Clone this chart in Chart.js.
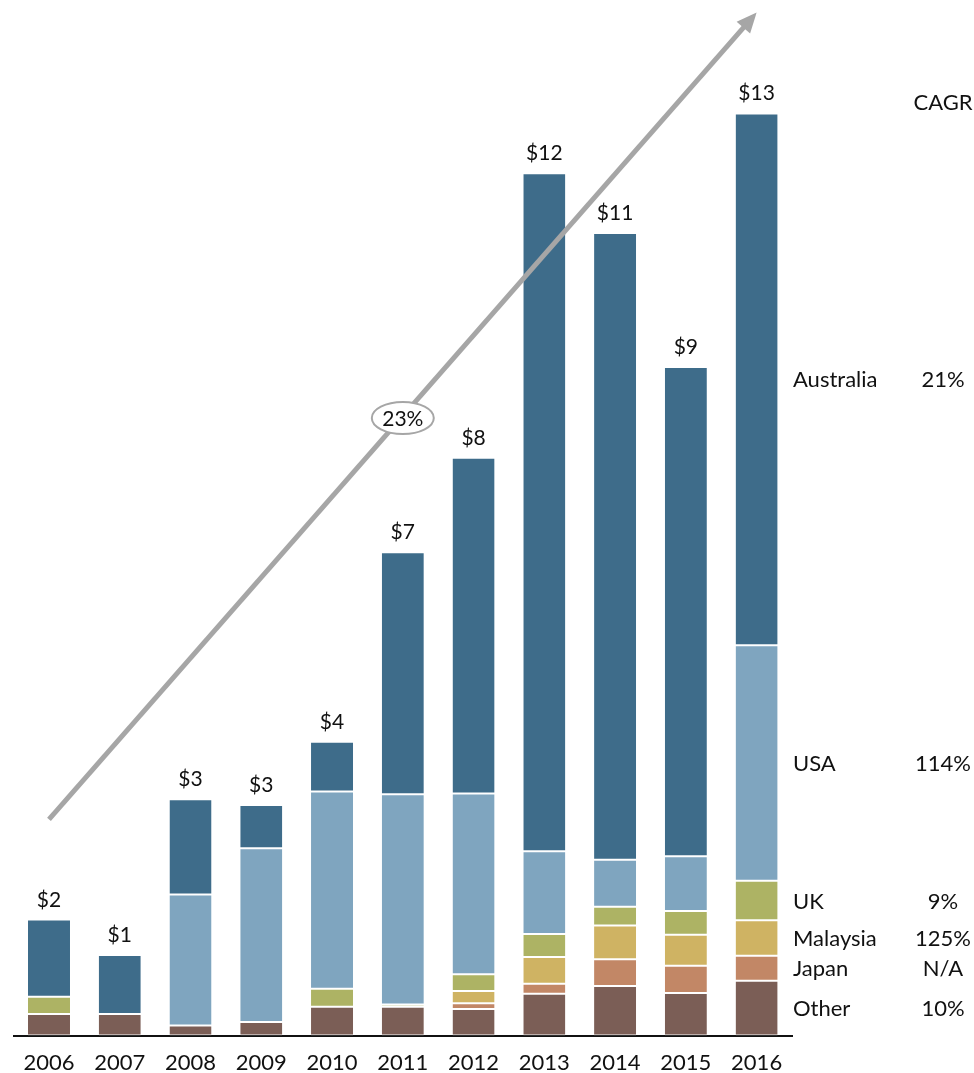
<!DOCTYPE html>
<html>
<head>
<meta charset="utf-8">
<script src="https://cdn.jsdelivr.net/npm/chart.js@4/dist/chart.umd.min.js"></script>
<style>
  html, body { margin: 0; padding: 0; background: #fff; }
  #wrap { width: 974px; height: 1073px; }
</style>
</head>
<body>
<div id="wrap"><canvas id="chart" width="974" height="1073"></canvas></div>
<script>
// values in $B
const years = ["2006", "2007", "2008", "2009", "2010", "2011", "2012", "2013", "2014", "2015", "2016"];
const other     = [0.30, 0.30, 0.14, 0.19, 0.40, 0.40, 0.37, 0.58, 0.69, 0.59, 0.76];
const japan     = [null, null, null, null, null, null, 0.08, 0.14, 0.37, 0.38, 0.35];
const malaysia  = [null, null, null, null, null, null, 0.17, 0.37, 0.47, 0.43, 0.49];
const uk        = [0.24, null, null, null, 0.25, 0.03, 0.23, 0.32, 0.26, 0.33, 0.55];
const usa       = [null, null, 1.82, 2.41, 2.74, 2.92, 2.51, 1.15, 0.65, 0.76, 3.27];
const australia = [1.07, 0.82, 1.32, 0.60, 0.69, 3.36, 4.66, 9.41, 8.70, 6.79, 7.38];
const totalLabels = ["$2", "$1", "$3", "$3", "$4", "$7", "$8", "$12", "$11", "$9", "$13"];
const seriesNames = ["Other", "Japan", "Malaysia", "UK", "USA", "Australia"];
const cagrLabels  = ["10%", "N/A", "125%", "9%", "114%", "21%"];
const cagrTitle = "CAGR";
const growthLabel = "23%";
const arrowFrom = [0, 3.0];   // [category index, value]
const arrowTo   = [10, 14.2];

const colors = ["#7b5e56", "#c28766", "#cfb363", "#adb364", "#7fa5bf", "#3e6c8a"];
const FONT = "Lato, 'Open Sans', sans-serif";
const seriesData = [other, japan, malaysia, uk, usa, australia];

const overlay = {
  id: "overlay",
  afterDatasetsDraw(chart) {
    const c = chart.ctx;
    const xs = chart.scales.x, ys = chart.scales.y;
    const n = chart.data.datasets.length;

    // growth arrow
    const x1 = xs.getPixelForValue(arrowFrom[0]), y1 = ys.getPixelForValue(arrowFrom[1]);
    const x2 = xs.getPixelForValue(arrowTo[0]), y2 = ys.getPixelForValue(arrowTo[1]);
    const ang = Math.atan2(y2 - y1, x2 - x1);
    const head = 22;
    c.save();
    c.strokeStyle = "#a6a6a6";
    c.fillStyle = "#a6a6a6";
    c.lineWidth = 5;
    c.beginPath();
    c.moveTo(x1, y1);
    c.lineTo(x2 - Math.cos(ang) * head * 0.8, y2 - Math.sin(ang) * head * 0.8);
    c.stroke();
    c.beginPath();
    c.moveTo(x2, y2);
    c.lineTo(x2 - head * Math.cos(ang - 0.42), y2 - head * Math.sin(ang - 0.42));
    c.lineTo(x2 - head * Math.cos(ang + 0.42), y2 - head * Math.sin(ang + 0.42));
    c.closePath();
    c.fill();

    // ellipse with growth rate
    const mx = (x1 + x2) / 2, my = (y1 + y2) / 2 + 2;
    c.beginPath();
    c.ellipse(mx, my, 31, 16, 0, 0, Math.PI * 2);
    c.fillStyle = "#fff";
    c.fill();
    c.lineWidth = 2;
    c.stroke();
    c.fillStyle = "#111";
    c.font = "21px " + FONT;
    c.textAlign = "center";
    c.textBaseline = "middle";
    c.fillText(growthLabel, mx, my + 1);

    // totals above bars
    const topMeta = chart.getDatasetMeta(n - 1);
    c.textBaseline = "alphabetic";
    topMeta.data.forEach((bar, i) => {
      c.fillText(totalLabels[i], bar.x, bar.y - 13);
    });

    // series names and CAGR on the right
    const last = years.length - 1;
    const nameX = chart.chartArea.right + 1;
    const cagrX = 943;
    c.font = "22px " + FONT;
    c.textBaseline = "middle";
    for (let d = 0; d < n; d++) {
      const el = chart.getDatasetMeta(d).data[last];
      const cy = (el.y + el.base) / 2 + 1;
      c.textAlign = "left";
      c.fillText(seriesNames[d], nameX, cy);
      c.textAlign = "center";
      c.fillText(cagrLabels[d], cagrX, cy);
    }
    c.fillText(cagrTitle, cagrX, 103);
    c.restore();
  }
};

new Chart(document.getElementById("chart"), {
  type: "bar",
  data: {
    labels: years,
    datasets: seriesData.map((vals, i) => ({
      label: seriesNames[i],
      data: vals,
      backgroundColor: colors[i],
      borderColor: "#ffffff",
      borderWidth: { top: 1, bottom: 1, left: 0, right: 0 },
      borderSkipped: false,
      categoryPercentage: 1,
      barPercentage: 0.594
    }))
  },
  options: {
    responsive: false,
    animation: false,
    layout: { padding: { left: 13.6, right: 182, top: 9, bottom: -17 } },
    plugins: { legend: { display: false }, tooltip: { enabled: false } },
    scales: {
      x: {
        stacked: true,
        grid: { display: false, drawTicks: false },
        border: { display: true, color: "#111", width: 2 },
        ticks: { color: "#111", font: { family: FONT, size: 22 }, padding: 14 }
      },
      y: {
        stacked: true,
        display: false,
        min: 0,
        max: 14.25
      }
    }
  },
  plugins: [overlay]
});
</script>
</body>
</html>
